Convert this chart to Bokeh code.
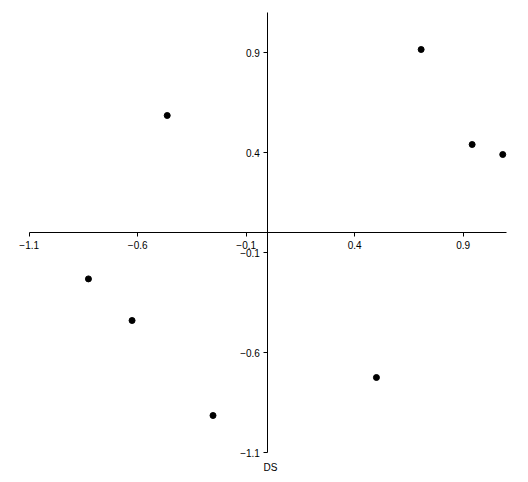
from bokeh.plotting import figure
from bokeh.models import LinearAxis, FixedTicker, Range1d, Label
from bokeh.embed import file_html
from bokeh.resources import INLINE

# data
x_vals = [0.706, 0.941, 1.082, -0.464, -0.827, -0.626, -0.253, 0.500]
y_vals = [0.915, 0.440, 0.390, 0.585, -0.232, -0.440, -0.915, -0.725]
tick_values = [-1.1, -0.6, -0.1, 0.4, 0.9]
axis_bounds = (-1.1, 1.1)
axis_title = "DS"

FONT = "Liberation Sans"

p = figure(frame_width=510, frame_height=480,
           x_range=Range1d(-1.2, 1.15), y_range=Range1d(-1.25, 1.15),
           x_axis_type=None, y_axis_type=None,
           output_backend="svg", toolbar_location=None,
           min_border_left=7, min_border_top=2,
           min_border_right=0, min_border_bottom=0)
p.outline_line_color = None
p.background_fill_color = "white"
p.border_fill_color = "white"


def style(ax):
    ax.ticker = FixedTicker(ticks=tick_values)
    ax.bounds = axis_bounds
    ax.major_tick_in = 0
    ax.major_tick_out = 4
    ax.minor_tick_in = 0
    ax.minor_tick_out = 0
    ax.axis_line_color = "black"
    ax.axis_line_width = 1
    ax.major_tick_line_color = "black"
    ax.major_label_text_font = FONT
    ax.major_label_text_font_size = "10px"
    ax.major_label_text_color = "black"
    ax.major_label_standoff = 4


xaxis = LinearAxis(fixed_location=0)
style(xaxis)
p.add_layout(xaxis, "below")

yaxis = LinearAxis(fixed_location=0)
style(yaxis)
p.add_layout(yaxis, "left")

p.scatter(x_vals, y_vals, marker="circle", size=6,
          fill_color="black", line_color="black")

title = Label(x=0, y=axis_bounds[0], text=axis_title, text_align="center",
              text_baseline="top", y_offset=-9, x_offset=2.5,
              text_font=FONT, text_font_size="10px", text_color="black")
p.add_layout(title)

open("out.html", "w").write(file_html(p, INLINE))
